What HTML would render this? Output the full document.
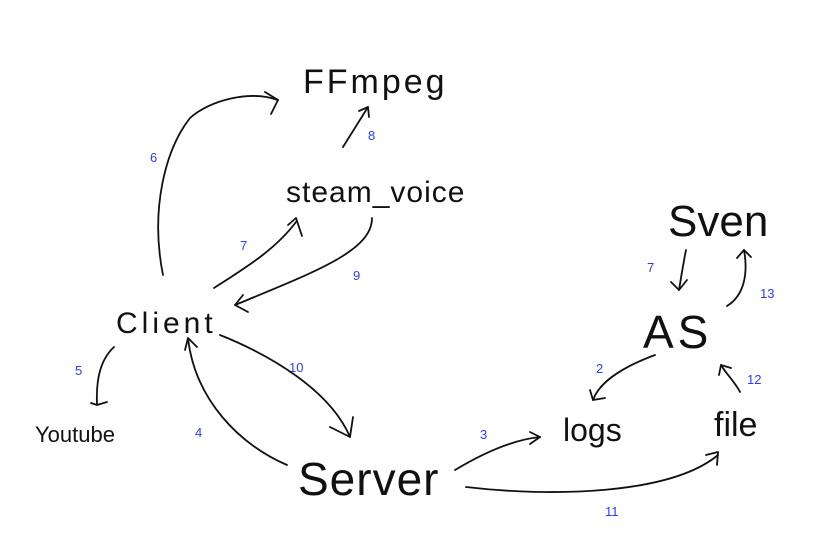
<!DOCTYPE html>
<html><head><style>
html,body{margin:0;padding:0;background:#fff;}
svg{display:block;}
.t{font-family:"Liberation Sans",sans-serif;fill:#111;font-weight:normal;}
.n{font-family:"Liberation Sans",sans-serif;fill:#2a3cff;font-size:13px;}
path{fill:none;stroke:#111;stroke-width:1.8;stroke-linecap:round;stroke-linejoin:round;}
</style></head><body>
<svg width="837" height="546" viewBox="0 0 837 546" xmlns="http://www.w3.org/2000/svg">
<text class="t" x="303" y="93" font-size="34" letter-spacing="3">FFmpeg</text>
<text class="t" x="286" y="202" font-size="30" letter-spacing="1">steam_voice</text>
<text class="t" x="668" y="236" font-size="44">Sven</text>
<text class="t" x="116" y="333" font-size="30" letter-spacing="4">Client</text>
<text class="t" x="643" y="348" font-size="46" letter-spacing="4">AS</text>
<text class="t" x="35" y="442" font-size="22">Youtube</text>
<text class="t" x="563" y="441" font-size="32">logs</text>
<text class="t" x="714" y="436" font-size="34">file</text>
<text class="t" x="298" y="495" font-size="46" letter-spacing="1">Server</text>

<text class="n" x="150" y="162">6</text>
<text class="n" x="368" y="140">8</text>
<text class="n" x="240" y="250">7</text>
<text class="n" x="353" y="280">9</text>
<text class="n" x="75" y="375">5</text>
<text class="n" x="289" y="372">10</text>
<text class="n" x="195" y="437">4</text>
<text class="n" x="480" y="439">3</text>
<text class="n" x="596" y="373">2</text>
<text class="n" x="647" y="272">7</text>
<text class="n" x="760" y="298">13</text>
<text class="n" x="747" y="384">12</text>
<text class="n" x="605" y="516">11</text>

<path d="M163,275 C150,210 165,150 190,118 C210,100 250,90 278,100"/>
<path d="M265,92 L278,100 L271,114"/>
<path d="M343,147 L368,107"/><path d="M359,111 L368,107 L369,117"/>
<path d="M214,288 C245,268 275,250 296,222"/><path d="M288,225 L296,218 L302,236"/>
<path d="M372,218 C372,250 320,270 235,305"/><path d="M243,295 L235,305 L248,312"/>
<path d="M114,347 C100,360 96,380 97,404"/><path d="M91,403 L97,405 L107,402"/>
<path d="M220,335 C270,355 330,390 350,437"/><path d="M353,417 L350,437 L330,427"/>
<path d="M287,465 C240,445 195,400 188,338"/><path d="M185,350 L188,338 L197,347"/>
<path d="M455,470 C480,455 510,440 540,437"/><path d="M530,432 L540,437 L530,444"/>
<path d="M466,487 C550,497 670,495 718,455"/><path d="M706,455 L718,452 L717,465"/>
<path d="M655,355 C628,365 600,380 593,400"/><path d="M590,390 L593,400 L605,398"/>
<path d="M686,250 C683,265 681,278 679,290"/><path d="M671,282 L679,290 L687,280"/>
<path d="M727,306 C745,295 748,272 744,250"/><path d="M737,258 L744,250 L751,257"/>
<path d="M740,392 C735,382 727,375 721,365"/><path d="M719,375 L721,365 L731,368"/>
</svg>
</body></html>
